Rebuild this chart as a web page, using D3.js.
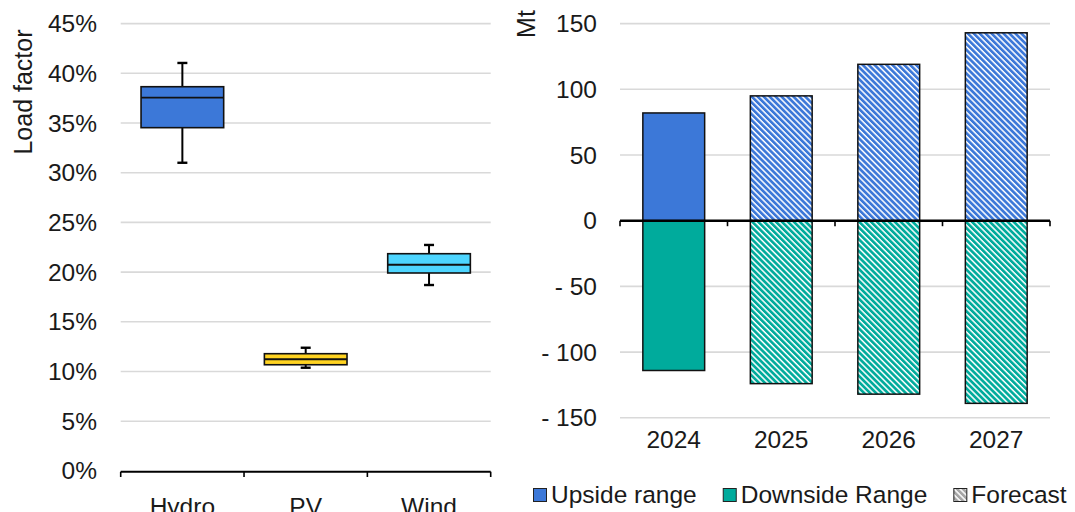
<!DOCTYPE html>
<html>
<head>
<meta charset="utf-8">
<script src="https://cdn.jsdelivr.net/npm/d3@7"></script>
<style>
  html, body { margin: 0; padding: 0; background: #fff; }
  svg { display: block; font-family: "Liberation Sans", Arial, sans-serif; }
</style>
</head>
<body>
<svg id="chart" width="1075" height="512"></svg>
<script>
// ---- Left panel: load factor distribution by technology ----
const techs = ["Hydro", "PV", "Wind"];
const techColors = ["#3c78d8", "#ffd321", "#4dd5ff"];
const whiskerLow = [0.310, 0.1038, 0.187];
const boxLow = [0.3453, 0.1068, 0.1991];
const medians = [0.3755, 0.1123, 0.2074];
const boxHigh = [0.3865, 0.1179, 0.2185];
const whiskerHigh = [0.4104, 0.1239, 0.2273];
const pctTicks = [0, 0.05, 0.10, 0.15, 0.20, 0.25, 0.30, 0.35, 0.40, 0.45];

// ---- Right panel: upside / downside range, Mt ----
const years = ["2024", "2025", "2026", "2027"];
const upside = [82, 95, 119, 143];
const downside = [-114, -124, -132, -139];
const isForecast = [false, true, true, true];
const mtTicks = [-150, -100, -50, 0, 50, 100, 150];
const legendLabels = ["Upside range", "Downside Range", "Forecast"];

const upColor = "#3c78d8";
const downColor = "#00ab9c";
const gridColor = "#d9d9d9";
const fontSize = 24.5;
const titleSize = 25;

const svg = d3.select("#chart");

// Diagonal hatch patterns used for forecast years
const defs = svg.append("defs");
function hatch(id, color) {
  const p = defs.append("pattern")
    .attr("id", id)
    .attr("patternUnits", "userSpaceOnUse")
    .attr("width", 4.2).attr("height", 4.2)
    .attr("patternTransform", "rotate(-45)");
  p.append("rect").attr("width", 4.2).attr("height", 4.2).attr("fill", "#ffffff");
  p.append("rect").attr("width", 2.7).attr("height", 4.2).attr("fill", color);
}
hatch("hatchUp", upColor);
hatch("hatchDown", downColor);
hatch("hatchGray", "#a6a6a6");

// ================= Left panel =================
const xL = d3.scaleBand().domain(techs).range([120.7, 490.7]).padding(0);
const yL = d3.scaleLinear().domain([0, 0.45]).range([470.9, 23.6]);

const gL = svg.append("g");

// gridlines
gL.append("g").selectAll("line")
  .data(pctTicks.filter(d => d > 0))
  .join("line")
  .attr("x1", 120.7).attr("x2", 490.7)
  .attr("y1", d => yL(d)).attr("y2", d => yL(d))
  .attr("stroke", gridColor).attr("stroke-width", 1.6);

// y tick labels
gL.append("g").selectAll("text")
  .data(pctTicks)
  .join("text")
  .attr("x", 97).attr("y", d => yL(d))
  .attr("dy", "0.35em")
  .attr("text-anchor", "end")
  .attr("font-size", fontSize)
  .attr("fill", "#1a1a1a")
  .text(d => d3.format(".0%")(d));

// y axis title
gL.append("text")
  .attr("transform", "translate(32,92) rotate(-90)")
  .attr("text-anchor", "middle")
  .attr("font-size", titleSize)
  .attr("fill", "#1a1a1a")
  .text("Load factor");

// x axis with ticks at category boundaries
const xAxisL = gL.append("g");
xAxisL.append("line")
  .attr("x1", 120.7).attr("x2", 490.7)
  .attr("y1", 471.7).attr("y2", 471.7)
  .attr("stroke", "#000").attr("stroke-width", 2);
const boundsL = techs.map(t => xL(t)).concat([xL.range()[1]]);
xAxisL.selectAll("line.tick")
  .data(boundsL)
  .join("line").attr("class", "tick")
  .attr("x1", d => d).attr("x2", d => d)
  .attr("y1", 471.7).attr("y2", 477)
  .attr("stroke", "#000").attr("stroke-width", 1.6);
xAxisL.selectAll("text")
  .data(techs)
  .join("text")
  .attr("x", d => xL(d) + xL.bandwidth() / 2)
  .attr("y", 515)
  .attr("text-anchor", "middle")
  .attr("font-size", fontSize)
  .attr("fill", "#1a1a1a")
  .text(d => d);

// box plots
const boxW = xL.bandwidth() * 0.67;
const capW = 10;
const boxes = gL.append("g").selectAll("g")
  .data(techs.map((t, i) => ({ t, i })))
  .join("g");
boxes.each(function ({ t, i }) {
  const g = d3.select(this);
  const cx = xL(t) + xL.bandwidth() / 2;
  // whiskers
  g.append("line")
    .attr("x1", cx).attr("x2", cx)
    .attr("y1", yL(whiskerHigh[i])).attr("y2", yL(boxHigh[i]))
    .attr("stroke", "#000").attr("stroke-width", 2);
  g.append("line")
    .attr("x1", cx).attr("x2", cx)
    .attr("y1", yL(boxLow[i])).attr("y2", yL(whiskerLow[i]))
    .attr("stroke", "#000").attr("stroke-width", 2);
  [whiskerHigh[i], whiskerLow[i]].forEach(v => {
    g.append("line")
      .attr("x1", cx - capW / 2).attr("x2", cx + capW / 2)
      .attr("y1", yL(v)).attr("y2", yL(v))
      .attr("stroke", "#000").attr("stroke-width", 2.4);
  });
  // box
  g.append("rect")
    .attr("x", cx - boxW / 2).attr("width", boxW)
    .attr("y", yL(boxHigh[i])).attr("height", yL(boxLow[i]) - yL(boxHigh[i]))
    .attr("fill", techColors[i])
    .attr("stroke", "#111").attr("stroke-width", 1.6);
  // median
  g.append("line")
    .attr("x1", cx - boxW / 2).attr("x2", cx + boxW / 2)
    .attr("y1", yL(medians[i])).attr("y2", yL(medians[i]))
    .attr("stroke", "#111").attr("stroke-width", 1.8);
});

// ================= Right panel =================
const xR = d3.scaleBand().domain(years).range([620, 1050]).padding(0);
const yR = d3.scaleLinear().domain([-150, 150]).range([417.8, 23.6]);
const gR = svg.append("g");

gR.append("g").selectAll("line")
  .data(mtTicks.filter(d => d !== 0))
  .join("line")
  .attr("x1", 620).attr("x2", 1050)
  .attr("y1", d => yR(d)).attr("y2", d => yR(d))
  .attr("stroke", gridColor).attr("stroke-width", 1.6);

gR.append("g").selectAll("text")
  .data(mtTicks)
  .join("text")
  .attr("x", 597).attr("y", d => yR(d))
  .attr("dy", "0.35em")
  .attr("text-anchor", "end")
  .attr("font-size", fontSize)
  .attr("fill", "#1a1a1a")
  .text(d => d < 0 ? "- " + Math.abs(d) : String(d));

gR.append("text")
  .attr("transform", "translate(535,24) rotate(-90)")
  .attr("text-anchor", "middle")
  .attr("font-size", titleSize)
  .attr("fill", "#1a1a1a")
  .text("Mt");

// bars
const barW = xR.bandwidth() * 0.575;
const barG = gR.append("g");
years.forEach((yr, i) => {
  const x = xR(yr) + (xR.bandwidth() - barW) / 2;
  barG.append("rect")
    .attr("x", x).attr("width", barW)
    .attr("y", yR(upside[i])).attr("height", yR(0) - yR(upside[i]))
    .attr("fill", isForecast[i] ? "url(#hatchUp)" : upColor)
    .attr("stroke", "#111").attr("stroke-width", 1.5);
  barG.append("rect")
    .attr("x", x).attr("width", barW)
    .attr("y", yR(0)).attr("height", yR(downside[i]) - yR(0))
    .attr("fill", isForecast[i] ? "url(#hatchDown)" : downColor)
    .attr("stroke", "#111").attr("stroke-width", 1.5);
});

// zero axis with ticks at category boundaries
const xAxisR = gR.append("g");
xAxisR.append("line")
  .attr("x1", 620).attr("x2", 1050)
  .attr("y1", yR(0)).attr("y2", yR(0))
  .attr("stroke", "#000").attr("stroke-width", 2.4);
const boundsR = years.map(y => xR(y)).concat([xR.range()[1]]);
xAxisR.selectAll("line.tick")
  .data(boundsR)
  .join("line").attr("class", "tick")
  .attr("x1", d => d).attr("x2", d => d)
  .attr("y1", yR(0)).attr("y2", yR(0) + 5.5)
  .attr("stroke", "#000").attr("stroke-width", 1.6);

gR.append("g").selectAll("text")
  .data(years)
  .join("text")
  .attr("x", d => xR(d) + xR.bandwidth() / 2)
  .attr("y", 448)
  .attr("text-anchor", "middle")
  .attr("font-size", fontSize)
  .attr("fill", "#1a1a1a")
  .text(d => d);

// legend: items laid out left to right from measured text widths
const legendFill = [upColor, downColor, "url(#hatchGray)"];
const legend = svg.append("g");
let lx = 533;
legendLabels.forEach((label, i) => {
  const item = legend.append("g").attr("transform", `translate(${lx},0)`);
  item.append("rect")
    .attr("x", 0.5).attr("y", 488.5)
    .attr("width", 13).attr("height", 13)
    .attr("fill", legendFill[i])
    .attr("stroke", "#222").attr("stroke-width", 1);
  const t = item.append("text")
    .attr("x", 18).attr("y", 502.5)
    .attr("font-size", fontSize)
    .attr("fill", "#1a1a1a")
    .text(label);
  lx += 18 + t.node().getComputedTextLength() + 26;
});
</script>
</body>
</html>
